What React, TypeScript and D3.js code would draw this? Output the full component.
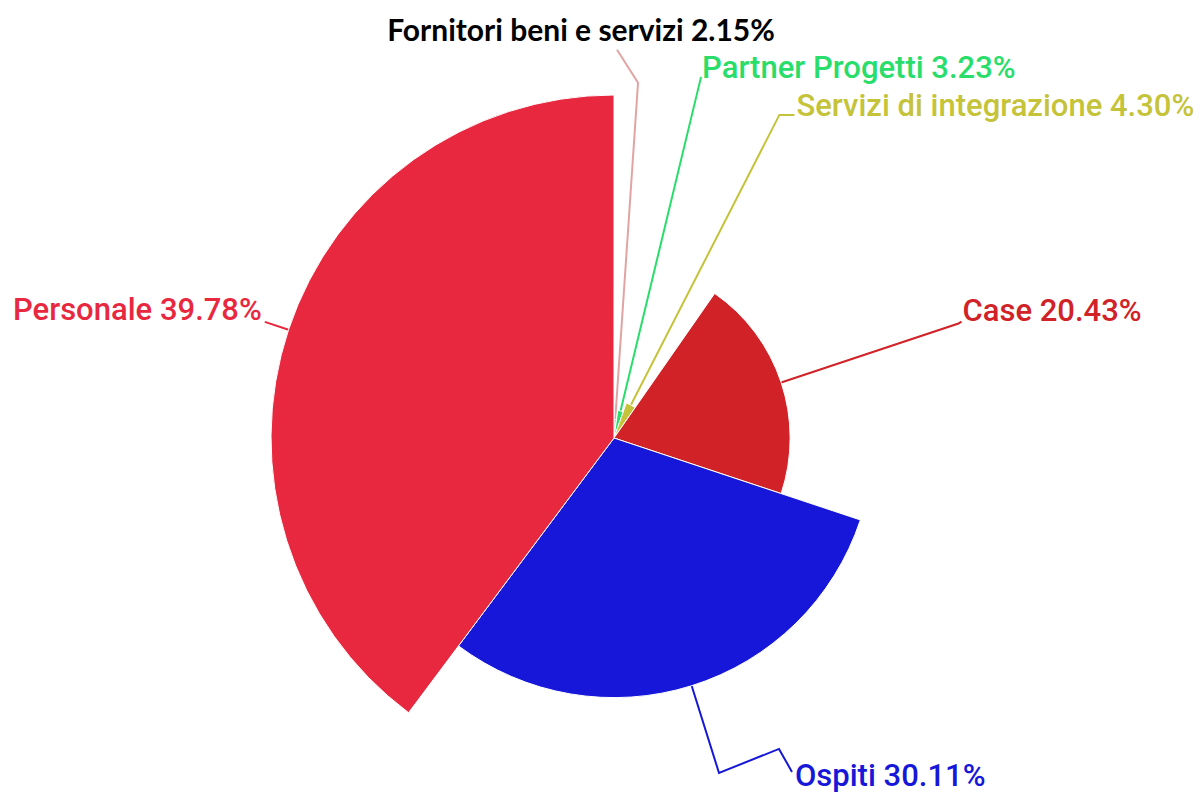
import React, { useRef, useEffect } from 'react';
import * as d3 from 'd3';

// spese per voce, in senso orario dalle 12
const categories = [
  'Fornitori beni e servizi',
  'Partner Progetti',
  'Servizi di integrazione',
  'Case',
  'Ospiti',
  'Personale',
];
const values = [2.15, 3.23, 4.3, 20.43, 30.11, 39.78];
const colors = ['#e2a3a3', '#29dd6b', '#c4c33a', '#d02227', '#1617d8', '#e8283f'];

// label line tweaks (relative to the elbow on the label radius)
const labelLayout = [
  { r: 356, bends: [[-21, -33]], anchor: 'middle', dx: -36, dy: -9 },
  { r: 363, bends: [[2, -8]], anchor: 'start', dx: 1, dy: 1 },
  { r: 363, bends: [[15, 0]], anchor: 'start', dx: 2, dy: 1 },
  { r: 363, bends: [[3, -2]], anchor: 'start', dx: 1, dy: -1 },
  { r: 351, bends: [[60, -24], [73, -1]], anchor: 'start', dx: 3, dy: 14 },
  { r: 368, bends: [], anchor: 'end', dx: -3, dy: -2 },
];

const App = () => {
  const svgRef = useRef(null);

  useEffect(() => {
    const width = 1203;
    const height = 793;
    const cx = 614;
    const cy = 438;
    const svg = d3.select(svgRef.current).attr('width', width).attr('height', height);
    svg.selectAll('*').remove();

    const data = categories.map((c, i) => ({ name: c, value: values[i], color: colors[i], layout: labelLayout[i] }));

    const radius = d3.scaleLinear().domain([0, d3.max(values)]).range([0, 343]);
    const pie = d3.pie().value(d => d.value).sort(null);
    const arcs = pie(data);

    const arc = d3.arc()
      .innerRadius(0)
      .outerRadius(d => radius(d.data.value));

    const g = svg.append('g').attr('transform', `translate(${cx}, ${cy})`);

    const polar = (a, r) => [Math.sin(a) * r, -Math.cos(a) * r];

    // label lines first so slices cover the inner part
    arcs.forEach(d => {
      const mid = (d.startAngle + d.endAngle) / 2;
      const lay = d.data.layout;
      const p1 = polar(mid, radius(d.data.value));
      const p2 = polar(mid, lay.r);
      const pts = [p1, p2].concat(lay.bends.map(b => [p2[0] + b[0], p2[1] + b[1]]));
      g.append('path')
        .attr('d', d3.line()(pts))
        .attr('fill', 'none')
        .attr('stroke', d.data.color)
        .attr('stroke-width', 2);
      d.labelAt = pts[pts.length - 1];
    });

    g.selectAll('path.slice')
      .data(arcs)
      .enter()
      .append('path')
      .attr('class', 'slice')
      .attr('d', arc)
      .attr('fill', d => d.data.color)
      .attr('stroke', '#fff')
      .attr('stroke-width', 1);

    arcs.forEach((d, i) => {
      const lay = d.data.layout;
      const [x, y] = d.labelAt;
      const first = i === 0;
      g.append('text')
        .attr('x', x + lay.dx)
        .attr('y', y + lay.dy)
        .attr('text-anchor', lay.anchor)
        .attr('font-family', first ? 'Lato, "Open Sans", sans-serif' : 'Roboto, sans-serif')
        .attr('font-weight', first ? 700 : 500)
        .attr('font-size', first ? 30 : 31)
        .attr('fill', first ? '#000' : d.data.color)
        .text(`${d.data.name} ${d.data.value.toFixed(2)}%`);
    });
  }, []);

  return (
    <div>
      <style>{'body{margin:0}'}</style>
      <svg ref={svgRef} style={{ display: 'block' }}></svg>
    </div>
  );
};

export default App;
